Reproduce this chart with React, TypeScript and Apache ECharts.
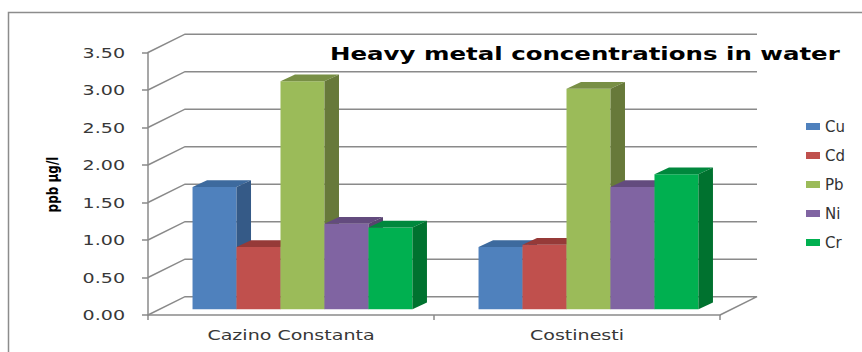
import React, { useEffect, useRef } from "react";
import * as echarts from "echarts";

// Sites and metals
const categories = ["Cazino Constanta", "Costinesti"];
const metals = ["Cu", "Cd", "Pb", "Ni", "Cr"];

// Concentrations (ppb µg/l) per site
const cuValues = [1.63, 0.83];
const cdValues = [0.83, 0.86];
const pbValues = [3.04, 2.94];
const niValues = [1.14, 1.63];
const crValues = [1.09, 1.8];

// Value axis ticks
const yTicks = [0, 0.5, 1, 1.5, 2, 2.5, 3, 3.5];
const yTickLabels = ["0.00", "0.50", "1.00", "1.50", "2.00", "2.50", "3.00", "3.50"];

const title = "Heavy metal concentrations in water";
const yName = "ppb µg/l";

// Face colours: front, top, side
const palette = [
  { front: "#4F81BD", top: "#3D6A9E", side: "#355A87" },
  { front: "#C0504D", top: "#963A38", side: "#8A3533" },
  { front: "#9BBB59", top: "#788F45", side: "#67793A" },
  { front: "#8064A2", top: "#634B7E", side: "#584470" },
  { front: "#00B050", top: "#00883D", side: "#00722F" },
];

// 3D projection offsets
const WALL_DX = 37;
const WALL_DY = 18.3;
const BAR_OFF_DX = 11.5;
const BAR_OFF_DY = 5.7;
const BAR_DEPTH_DX = 14.5;
const BAR_DEPTH_DY = 6.8;
const BAR_BAND_RATIO = 0.1538;
const TEXT_STRETCH = 1.36;

const FONT = "'DejaVu Sans', Verdana, sans-serif";
const GRID_COLOR = "#8A8A8A";

export default function App() {
  const ref = useRef<HTMLDivElement>(null);

  useEffect(() => {
    if (!ref.current) return;
    const chart = echarts.init(ref.current, undefined, { renderer: "svg" });

    const seriesValues = [cuValues, cdValues, pbValues, niValues, crValues];

    const barSeries = metals.map((name, idx) => ({
      name,
      type: "custom",
      silent: true,
      z: 3,
      itemStyle: { color: palette[idx].front },
      encode: { x: 0, y: 1 },
      data: categories.map((_, ci) => [ci, seriesValues[idx][ci]]),
      renderItem: (params: any, api: any) => {
        const cat = api.value(0);
        const v = api.value(1);
        const base = api.coord([cat, 0]);
        const top = api.coord([cat, v]);
        const band = api.size([1, 0])[0];
        const w = band * BAR_BAND_RATIO;
        const x0 = base[0] - w * 2.5 + BAR_OFF_DX + idx * w;
        const x1 = x0 + w;
        const yb = base[1] - BAR_OFF_DY;
        const yt = top[1] - BAR_OFF_DY;
        const c = palette[idx];
        return {
          type: "group",
          children: [
            {
              type: "rect",
              shape: { x: x0, y: yt, width: w, height: yb - yt },
              style: { fill: c.front },
            },
            {
              type: "polygon",
              shape: {
                points: [
                  [x0, yt],
                  [x0 + BAR_DEPTH_DX, yt - BAR_DEPTH_DY],
                  [x1 + BAR_DEPTH_DX, yt - BAR_DEPTH_DY],
                  [x1, yt],
                ],
              },
              style: { fill: c.top },
            },
            {
              type: "polygon",
              shape: {
                points: [
                  [x1, yt],
                  [x1 + BAR_DEPTH_DX, yt - BAR_DEPTH_DY],
                  [x1 + BAR_DEPTH_DX, yb - BAR_DEPTH_DY],
                  [x1, yb],
                ],
              },
              style: { fill: c.side },
            },
          ],
        };
      },
    }));

    // Back wall and floor grid lines
    const wallSeries = {
      type: "custom",
      silent: true,
      z: 1,
      encode: { x: 0, y: 1 },
      data: yTicks.map((v) => [0, v]),
      renderItem: (params: any, api: any) => {
        const v = api.value(1);
        const cs = params.coordSys;
        const xl = cs.x;
        const xr = cs.x + cs.width;
        const y = api.coord([0, v])[1];
        const pts: number[][] = [
          [xl, y],
          [xl + WALL_DX, y - WALL_DY],
          [xr + WALL_DX, y - WALL_DY],
        ];
        if (v === 0) pts.push([xr, y]);
        return {
          type: "polyline",
          shape: { points: pts },
          style: { stroke: GRID_COLOR, lineWidth: 1.5, fill: null },
        };
      },
    };

    // Value axis tick labels
    const tickLabelSeries = {
      type: "custom",
      silent: true,
      z: 4,
      encode: { x: 0, y: 1 },
      data: yTicks.map((v) => [0, v]),
      renderItem: (params: any, api: any) => {
        const v = api.value(1);
        const cs = params.coordSys;
        const y = api.coord([0, v])[1];
        return {
          type: "text",
          x: cs.x - 23,
          y,
          scaleX: TEXT_STRETCH,
          style: {
            text: yTickLabels[params.dataIndex],
            fontFamily: FONT,
            fontSize: 14,
            fill: "#383838",
            align: "right",
            verticalAlign: "middle",
          },
        };
      },
    };

    // Category labels under the floor
    const catLabelSeries = {
      type: "custom",
      silent: true,
      z: 4,
      encode: { x: 0, y: 1 },
      data: categories.map((_, i) => [i, 0]),
      renderItem: (params: any, api: any) => {
        const p = api.coord([api.value(0), 0]);
        return {
          type: "text",
          x: p[0],
          y: p[1] + 20,
          scaleX: TEXT_STRETCH,
          style: {
            text: categories[params.dataIndex],
            fontFamily: FONT,
            fontSize: 14,
            fill: "#383838",
            align: "center",
            verticalAlign: "middle",
          },
        };
      },
    };

    chart.setOption({
      animation: false,
      backgroundColor: "#FFFFFF",
      grid: { left: 148, top: 52.5, width: 572, height: 262.5, containLabel: false },
      legend: {
        orient: "vertical",
        left: 806,
        top: 118.5,
        padding: 0,
        itemWidth: 14,
        itemHeight: 7,
        itemGap: 13,
        icon: "rect",
        selectedMode: false,
        data: metals,
        textStyle: { fontFamily: FONT, fontSize: 15, color: "#333333", lineHeight: 16 },
      },
      xAxis: {
        type: "category",
        data: categories,
        boundaryGap: true,
        axisLine: { lineStyle: { color: GRID_COLOR, width: 1.5 } },
        axisTick: { show: true, length: 5, lineStyle: { color: GRID_COLOR, width: 1.5 } },
        axisLabel: { show: false },
        splitLine: { show: false },
      },
      yAxis: {
        type: "value",
        min: 0,
        max: 3.5,
        interval: 0.5,
        axisLine: { show: true, lineStyle: { color: GRID_COLOR, width: 1.5 } },
        axisTick: { show: true, length: 6, lineStyle: { color: GRID_COLOR, width: 1.5 } },
        axisLabel: { show: false },
        splitLine: { show: false },
      },
      graphic: [
        {
          type: "rect",
          shape: { x: 8.5, y: 12.5, width: 900, height: 400 },
          style: { fill: "none", stroke: "#8C8C8C", lineWidth: 1.5 },
          silent: true,
          z: 0,
        },
        {
          type: "text",
          x: 330,
          y: 53.5,
          scaleX: TEXT_STRETCH,
          z: 10,
          style: {
            text: title,
            fontFamily: FONT,
            fontWeight: "bold",
            fontSize: 18,
            fill: "#000000",
            align: "left",
            verticalAlign: "middle",
          },
        },
        {
          type: "text",
          x: 52.5,
          y: 184.5,
          rotation: Math.PI / 2,
          scaleX: 0.8,
          z: 10,
          style: {
            text: yName,
            fontFamily: FONT,
            fontWeight: "bold",
            fontSize: 15,
            fill: "#000000",
            align: "center",
            verticalAlign: "middle",
          },
        },
      ],
      series: [wallSeries, ...barSeries, tickLabelSeries, catLabelSeries],
    });

    return () => chart.dispose();
  }, []);

  return (
    <div
      ref={ref}
      style={{ position: "fixed", left: 0, top: 0, width: 862, height: 352 }}
    />
  );
}
